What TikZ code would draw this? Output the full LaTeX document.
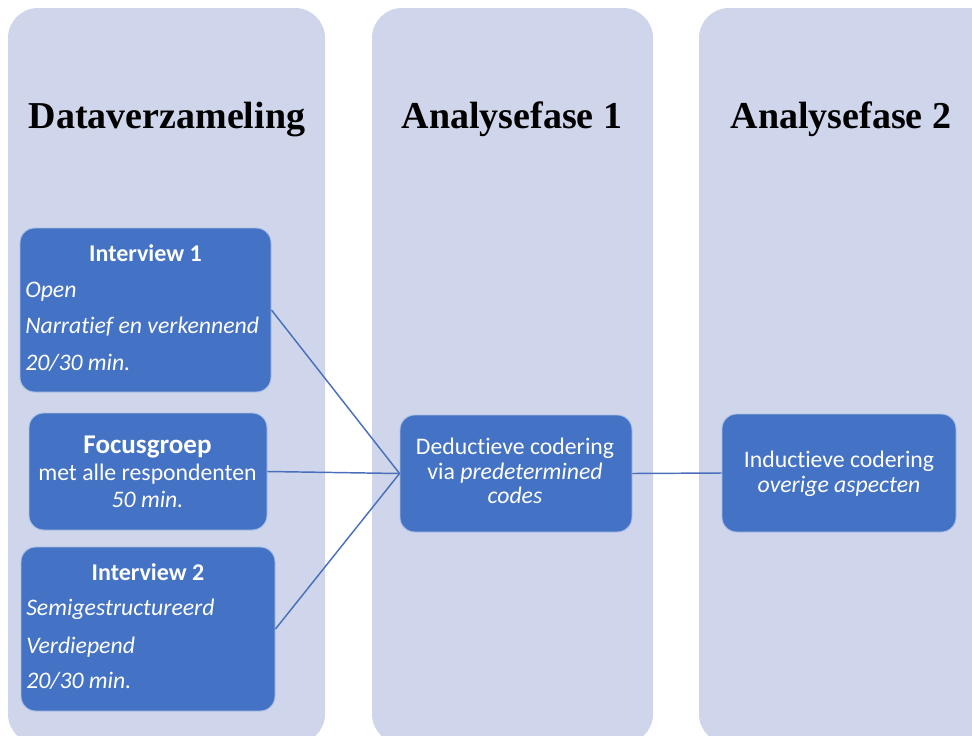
\documentclass[tikz,border=0pt]{standalone}
\usepackage{fontspec}
\setmainfont{Liberation Serif}
\newfontfamily\calib[Ligatures=NoCommon]{Carlito}
\definecolor{colbg}{HTML}{CFD5EA}
\definecolor{boxbg}{HTML}{4472C4}
\definecolor{linec}{HTML}{4A70BC}
\begin{document}
\begin{tikzpicture}[x=0.75pt,y=-0.75pt,
  column/.style={fill=colbg, rounded corners=22.5pt},
  heading/.style={anchor=base, font=\fontsize{28.5}{32}\selectfont\bfseries, text=black, inner sep=0},
  box/.style={draw=white!55!boxbg, line width=0.7pt, fill=boxbg, rounded corners=11pt, inner sep=0},
  btitle/.style={anchor=base, font=\calib\fontsize{18}{20}\selectfont\bfseries, text=white, inner sep=0},
  bline/.style={anchor=base west, font=\calib\fontsize{17.8}{20}\selectfont\itshape, text=white, inner sep=0},
  cline/.style={anchor=base, font=\calib\fontsize{17.8}{20}\selectfont, text=white, inner sep=0},
  conn/.style={draw=linec, line width=1.1pt}]
\useasboundingbox (0,0) rectangle (972,736);
\clip (0,0) rectangle (972,736);
% columns
\path[column] (8,8) rectangle (325,744);
\path[column] (372,8) rectangle (653,744);
\path[column] (699,8) rectangle (1010,744);
% headings
\node[heading] (h1) at (167,128) {Dataverzameling};
\node[heading] (h2) at (512,128) {Analysefase 1};
\node[heading] (h3) at (841,128) {Analysefase 2};
% boxes
\node[box, minimum width=188.25pt, minimum height=123pt] (i1) at (145.5,310) {};
\node[box, minimum width=178.5pt, minimum height=87.75pt] (fg) at (148,471.5) {};
\node[box, minimum width=190.5pt, minimum height=123pt] (i2) at (148,629) {};
\node[box, minimum width=174pt, minimum height=87.75pt] (dc) at (516,473.5) {};
\node[box, minimum width=175.5pt, minimum height=88.5pt] (ic) at (839,473) {};
% connectors
\draw[conn] (i1.east) -- (dc.west);
\draw[conn] (fg.east) -- (dc.west);
\draw[conn] (i2.east) -- (dc.west);
\draw[conn] (dc.east) -- (ic.west);
% interview 1 text
\node[btitle] (i1t) at (145.5,261) {Interview 1};
\node[bline] (i1a) at (25,297) {Open};
\node[bline] (i1b) at (25,333) {Narratief en verkennend};
\node[bline] (i1c) at (25,370) {20/30 min.};
% focusgroep text
\node[btitle, font=\calib\fontsize{20.3}{22}\selectfont\bfseries] (fgt) at (147.5,453) {Focusgroep};
\node[cline] (fga) at (147.5,480) {met alle respondenten};
\node[cline, font=\calib\fontsize{17.8}{20}\selectfont\itshape] (fgb) at (147.5,507) {50 min.};
% interview 2 text
\node[btitle] (i2t) at (148,580) {Interview 2};
\node[bline] (i2a) at (26,615) {Semigestructureerd};
\node[bline] (i2b) at (26,653) {Verdiepend};
\node[bline] (i2c) at (26,688) {20/30 min.};
% deductieve text
\node[cline] (dca) at (515,454) {Deductieve codering};
\node[cline] (dcb) at (515,479) {via \textit{predetermined}};
\node[cline, font=\calib\fontsize{17.8}{20}\selectfont\itshape] (dcc) at (515,503) {codes};
% inductieve text
\node[cline] (ica) at (839,467) {Inductieve codering};
\node[cline, font=\calib\fontsize{17.8}{20}\selectfont\itshape] (icb) at (839,492) {overige aspecten};
\end{tikzpicture}
\end{document}
